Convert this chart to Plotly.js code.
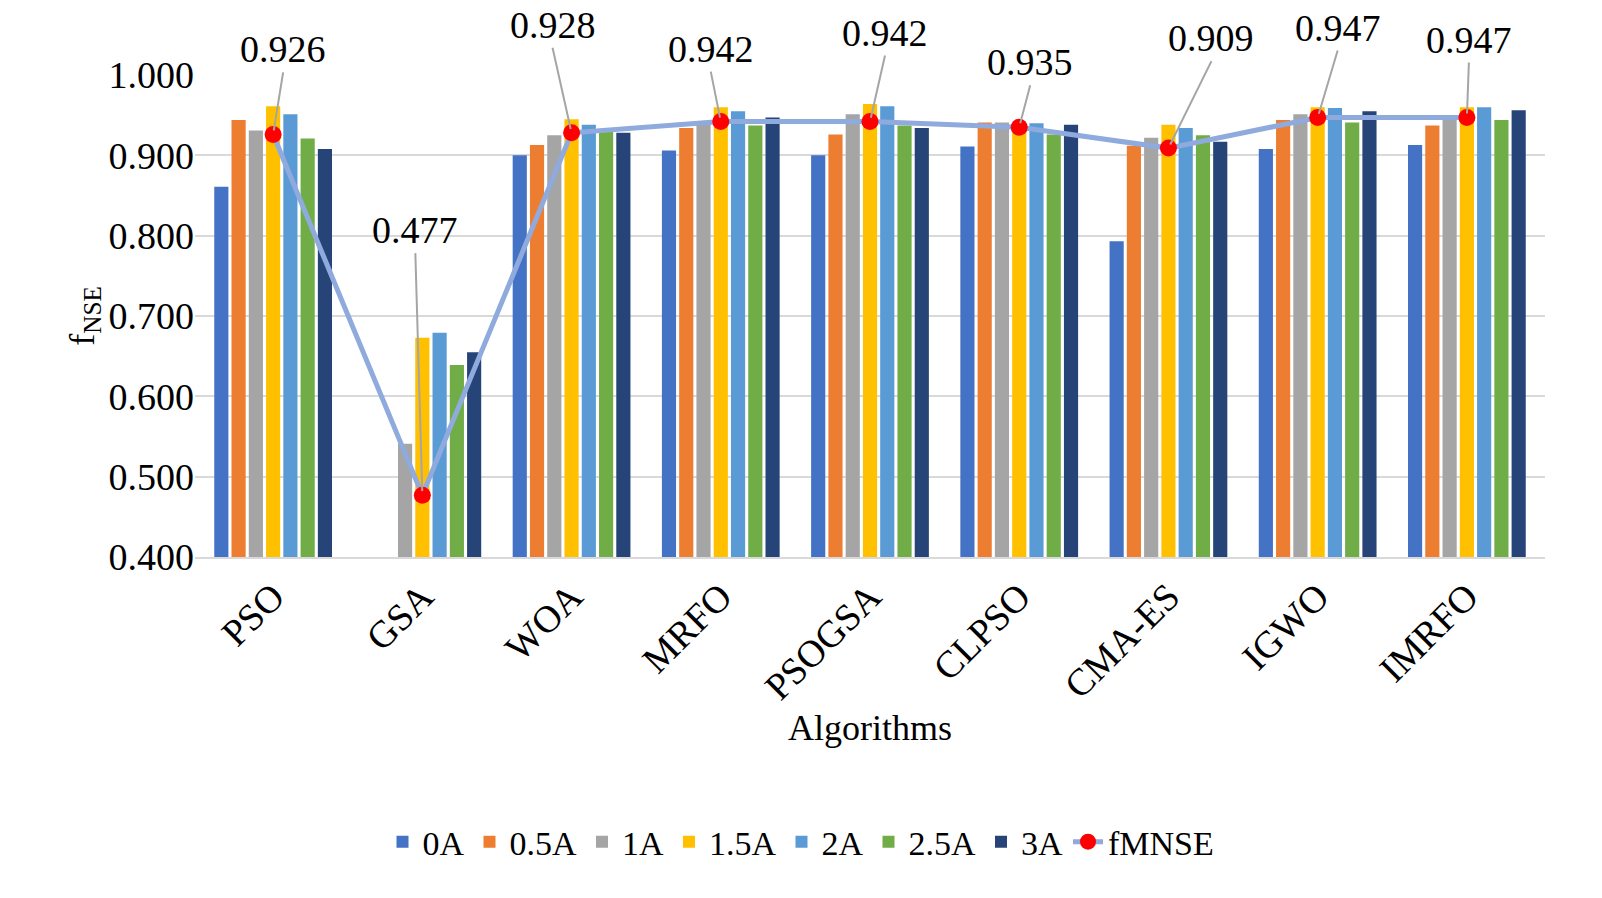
<!DOCTYPE html>
<html>
<head>
<meta charset="utf-8">
<script src="https://cdn.plot.ly/plotly-3.0.1.min.js"></script>
<style>body{margin:0;background:#fff}#plot{width:1602px;height:898px}</style>
</head>
<body>
<div id="plot"></div>
<script>
// categories and series
var algorithms = ['PSO', 'GSA', 'WOA', 'MRFO', 'PSOGSA', 'CLPSO', 'CMA-ES', 'IGWO', 'IMRFO'];
var seriesNames = ['0A', '0.5A', '1A', '1.5A', '2A', '2.5A', '3A'];
var colors = ['#4472c4', '#ed7d31', '#a5a5a5', '#ffc000', '#5b9bd5', '#70ad47', '#264478'];

var v0A   = [0.861, 0.398, 0.900, 0.906, 0.900, 0.911, 0.793, 0.908, 0.913];
var v05A  = [0.944, 0.397, 0.913, 0.934, 0.926, 0.941, 0.912, 0.944, 0.937];
var v1A   = [0.931, 0.541, 0.925, 0.939, 0.951, 0.941, 0.922, 0.951, 0.949];
var v15A  = [0.961, 0.673, 0.945, 0.960, 0.964, 0.937, 0.938, 0.960, 0.960];
var v2A   = [0.951, 0.679, 0.938, 0.955, 0.961, 0.940, 0.934, 0.959, 0.960];
var v25A  = [0.921, 0.639, 0.929, 0.937, 0.937, 0.926, 0.925, 0.941, 0.944];
var v3A   = [0.908, 0.655, 0.928, 0.947, 0.934, 0.938, 0.917, 0.955, 0.956];
var fMNSE = [0.926, 0.477, 0.928, 0.942, 0.942, 0.935, 0.909, 0.947, 0.947];

// label offsets for fMNSE callouts (pixels)
var labelAx = [10, -7, -19, -10, 15, 11, 43, 20, 2];
var labelAy = [-62, -242, -85, -50, -66, -42, -87, -67, -55];

var allSeries = [v0A, v05A, v1A, v15A, v2A, v25A, v3A];
var font = '"Liberation Serif", "Times New Roman", serif';

var data = allSeries.map(function (vals, i) {
  return {
    type: 'bar', x: algorithms, y: vals, name: seriesNames[i],
    marker: { color: colors[i] }
  };
});
data.push({
  type: 'scatter', mode: 'lines+markers', x: algorithms, y: fMNSE, name: 'fMNSE',
  line: { color: '#8faadc', width: 5 },
  marker: { color: '#ff0000', size: 17 }
});

var annotations = algorithms.map(function (a, i) {
  return {
    x: a, y: fMNSE[i], text: fMNSE[i].toFixed(3),
    showarrow: true, arrowhead: 0, arrowwidth: 2, arrowcolor: '#a5a5a5',
    ax: labelAx[i], ay: labelAy[i], yanchor: 'bottom', standoff: 4,
    font: { family: font, size: 38, color: '#000' }
  };
});

var layout = {
  width: 1602, height: 898,
  margin: { l: 195, r: 57, t: 75, b: 341 },
  paper_bgcolor: '#fff', plot_bgcolor: '#fff',
  font: { family: font, size: 38, color: '#000' },
  barmode: 'group', bargap: 0.19, bargroupgap: 0.18,
  showlegend: true,
  legend: { orientation: 'h', x: 0.5, xanchor: 'center', xref: 'container',
            y: 0.03, yanchor: 'bottom', yref: 'container',
            font: { family: font, size: 34 } },
  xaxis: {
    tickangle: -45, showline: true, linecolor: '#d9d9d9', linewidth: 2,
    automargin: false,
    title: { text: 'Algorithms', font: { family: font, size: 36 }, standoff: 0 },
    ticks: ''
  },
  yaxis: {
    range: [0.4, 1.0], dtick: 0.1, tickformat: '.3f', automargin: false,
    gridcolor: '#d9d9d9', gridwidth: 2, zeroline: false,
    title: { text: 'f<sub>NSE</sub>', font: { family: font, size: 36 } }
  },
  annotations: annotations
};

Plotly.newPlot('plot', data, layout, { displayModeBar: false });
</script>
</body>
</html>
